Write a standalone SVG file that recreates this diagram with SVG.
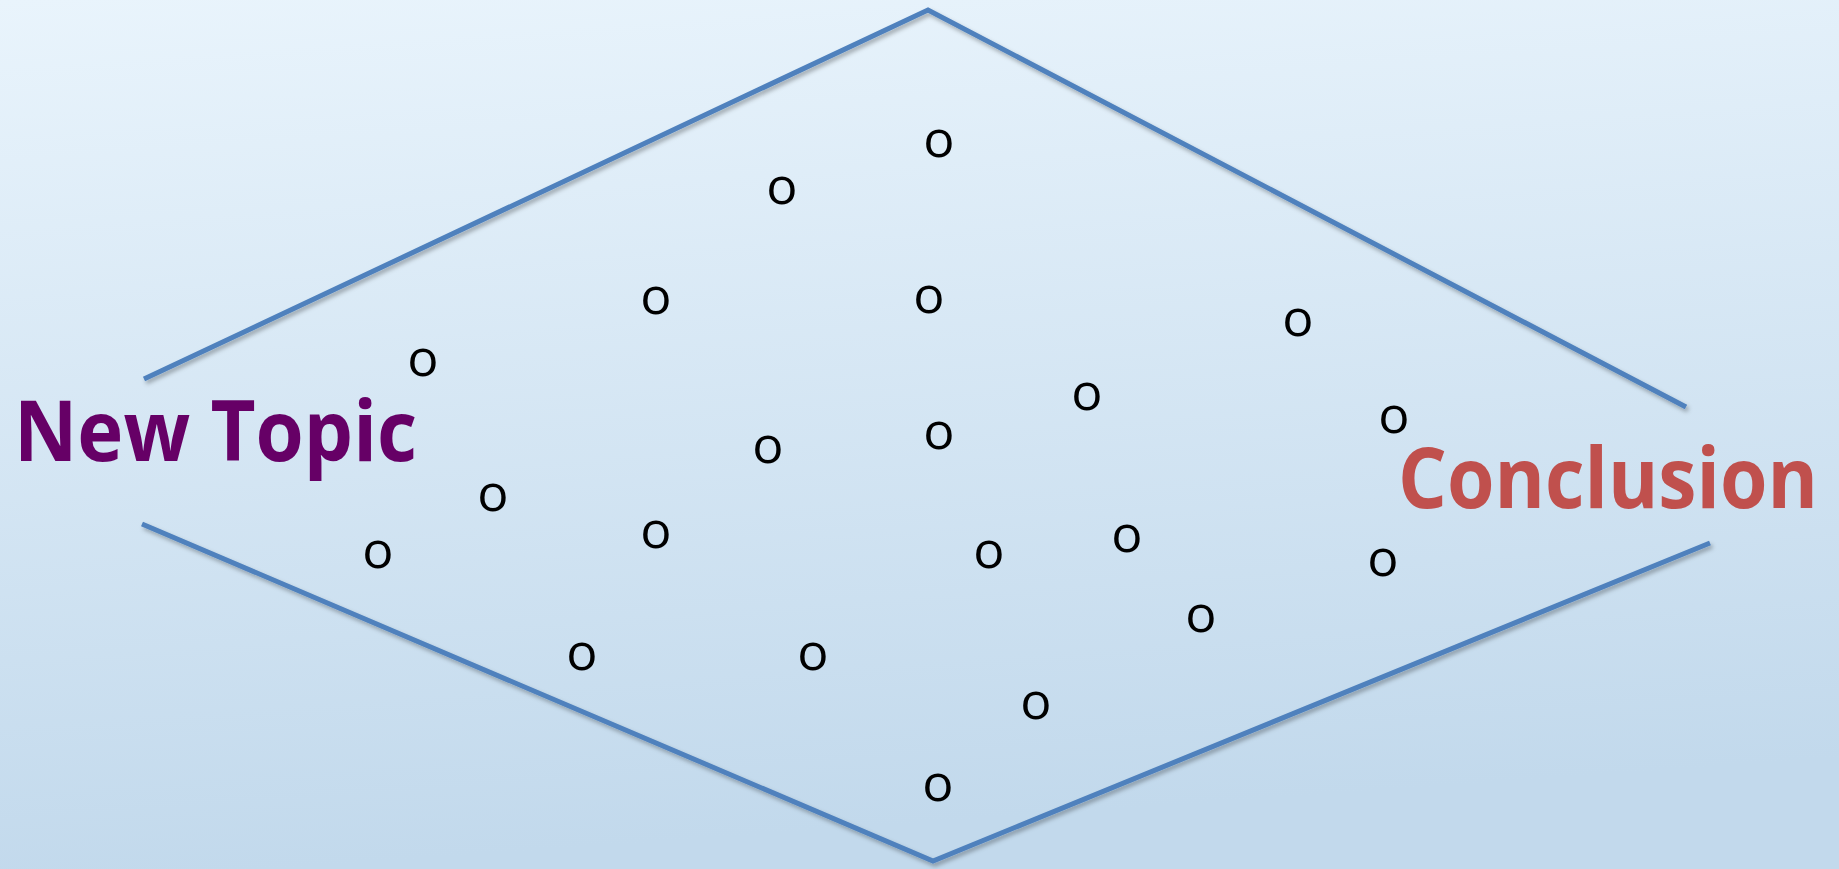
<svg xmlns="http://www.w3.org/2000/svg" width="1839" height="869" viewBox="0 0 1839 869">
<defs>
<linearGradient id="bg" x1="0" y1="0" x2="0.15" y2="1">
<stop offset="0" stop-color="#E9F4FC"/>
<stop offset="1" stop-color="#C2D9EC"/>
</linearGradient>
<filter id="sh" x="-5%" y="-5%" width="110%" height="110%">
<feDropShadow dx="2" dy="3" stdDeviation="2" flood-color="#000" flood-opacity="0.3"/>
</filter>
</defs>
<style>
.ln{fill:none;stroke:#4F81BD;stroke-width:5;stroke-linecap:butt;stroke-linejoin:miter}
.o{font-family:"Open Sans","DejaVu Sans",sans-serif;font-size:52px;fill:#000;text-anchor:middle}
.big{font-family:"Open Sans","Noto Sans",sans-serif;font-weight:bold;font-size:84px}
</style>
<rect width="1839" height="869" fill="url(#bg)"/>
<g id="connectors" filter="url(#sh)">
<polyline class="ln" points="144,379 928,10 1686,407"/>
<polyline class="ln" points="142,524 933,861 1710,543"/>
</g>
<g id="new-topic"><text class="big" x="14" y="461" fill="#660066" textLength="403" lengthAdjust="spacingAndGlyphs">New Topic</text></g>
<g id="conclusion"><text class="big" x="1398" y="508" fill="#C0504D" textLength="420" lengthAdjust="spacingAndGlyphs">Conclusion</text></g>
<g id="dots">
<text class="o" x="939" y="157">o</text>
<text class="o" x="782" y="204">o</text>
<text class="o" x="656" y="314">o</text>
<text class="o" x="929" y="313">o</text>
<text class="o" x="1298" y="336">o</text>
<text class="o" x="423" y="376">o</text>
<text class="o" x="1087" y="410">o</text>
<text class="o" x="1394" y="433">o</text>
<text class="o" x="768" y="463">o</text>
<text class="o" x="939" y="449">o</text>
<text class="o" x="493" y="511">o</text>
<text class="o" x="656" y="548">o</text>
<text class="o" x="378" y="568">o</text>
<text class="o" x="989" y="568">o</text>
<text class="o" x="1127" y="552">o</text>
<text class="o" x="1383" y="576">o</text>
<text class="o" x="1201" y="632">o</text>
<text class="o" x="582" y="670">o</text>
<text class="o" x="813" y="670">o</text>
<text class="o" x="1036" y="719">o</text>
<text class="o" x="938" y="801">o</text>
</g>
</svg>
